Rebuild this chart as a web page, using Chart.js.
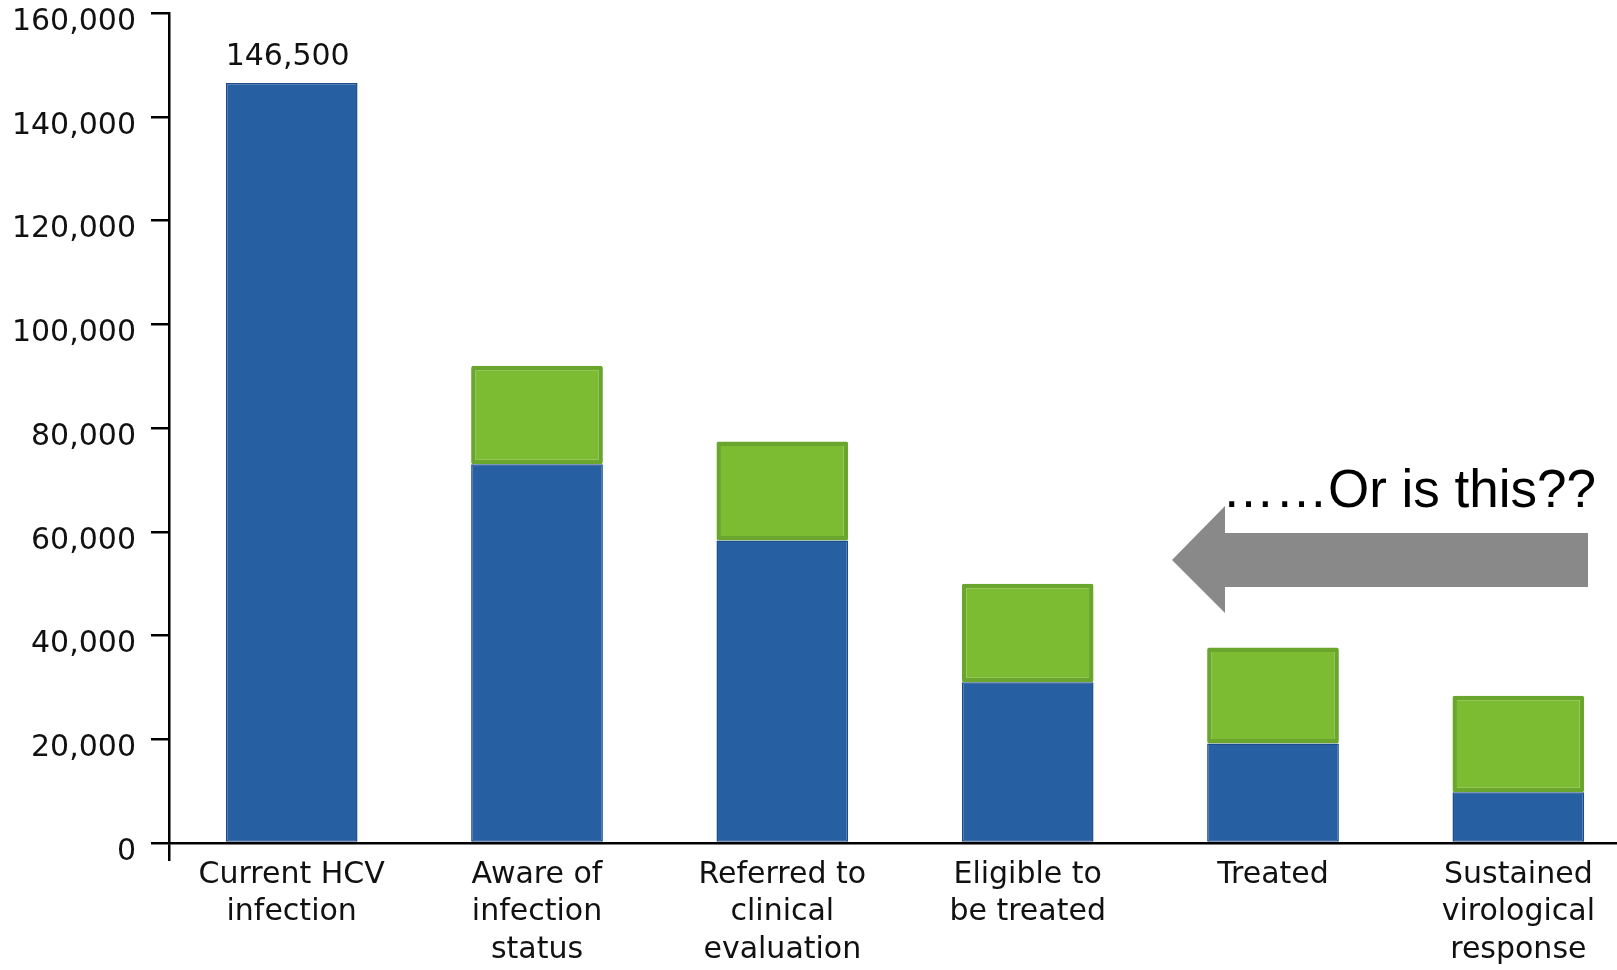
<!DOCTYPE html>
<html>
<head>
<meta charset="utf-8">
<script src="https://cdn.jsdelivr.net/npm/chart.js@4.4.0/dist/chart.umd.min.js"></script>
<style>
  html, body { margin: 0; padding: 0; background: #fff; overflow: hidden; }
  #wrap { width: 1645px; height: 970px; }
</style>
</head>
<body>
<div id="wrap"><canvas id="cascadeChart" width="1645" height="970"></canvas></div>
<script>
// Categorias do eixo X (rótulos em várias linhas)
const categories = [
    ['Current HCV', 'infection'],
    ['Aware of', 'infection', 'status'],
    ['Referred to', 'clinical', 'evaluation'],
    ['Eligible to', 'be treated'],
    ['Treated'],
    ['Sustained', 'virological', 'response']
];

// Valores
const baseValues = [146500, 73000, 58300, 31000, 19200, 9800];   // barras azuis
const extraValues = [null, 19000, 19100, 19000, 18500, 18600];   // acréscimo verde
const yTicks = [0, 20000, 40000, 60000, 80000, 100000, 120000, 140000, 160000];
const topLabel = '146,500';
const noteText = '\u2026\u2026Or is this??';

const tickFont = { family: 'DejaVu Sans', size: 30, lineHeight: 1.25 };

// Rótulo do valor acima da primeira barra
const valueLabelPlugin = {
    id: 'valueLabel',
    afterDatasetsDraw(chart) {
        const bar = chart.getDatasetMeta(0).data[0];
        const ctx = chart.ctx;
        ctx.save();
        ctx.font = '30px "DejaVu Sans"';
        ctx.fillStyle = '#111';
        ctx.textAlign = 'center';
        ctx.textBaseline = 'bottom';
        ctx.fillText(topLabel, bar.x - 4, bar.y - 11);
        ctx.restore();
    }
};

// Seta cinza e texto de anotação
const notePlugin = {
    id: 'note',
    afterDraw(chart) {
        const ctx = chart.ctx;
        ctx.save();
        ctx.fillStyle = '#898989';
        ctx.beginPath();
        ctx.moveTo(1172, 560);
        ctx.lineTo(1225, 506);
        ctx.lineTo(1225, 533);
        ctx.lineTo(1588, 533);
        ctx.lineTo(1588, 587);
        ctx.lineTo(1225, 587);
        ctx.lineTo(1225, 613);
        ctx.closePath();
        ctx.fill();
        ctx.font = '53px "Liberation Sans", Arial, sans-serif';
        ctx.fillStyle = '#000';
        ctx.textAlign = 'left';
        ctx.textBaseline = 'alphabetic';
        ctx.fillText(noteText, 1222, 507);
        ctx.restore();
    }
};

const ctx = document.getElementById('cascadeChart').getContext('2d');
const cascadeChart = new Chart(ctx, {
    type: 'bar',
    data: {
        labels: categories,
        datasets: [
            {
                data: baseValues,
                backgroundColor: '#2660a3',
                borderColor: '#1c4c8c',
                borderWidth: 1.5,
                borderSkipped: false,
                categoryPercentage: 1,
                barPercentage: 0.537
            },
            {
                data: extraValues,
                backgroundColor: '#7bbc33',
                borderColor: '#6aa52d',
                borderWidth: 4.5,
                borderRadius: 2,
                borderSkipped: false,
                categoryPercentage: 1,
                barPercentage: 0.537
            }
        ]
    },
    options: {
        responsive: false,
        devicePixelRatio: 1,
        animation: false,
        layout: { padding: { top: 13, right: 4, bottom: 0, left: 0 } },
        plugins: {
            legend: { display: false },
            tooltip: { enabled: false }
        },
        scales: {
            x: {
                stacked: true,
                afterFit(scale) { scale.height = 127; scale.paddingLeft = 0; scale.paddingRight = 0; },
                border: { color: '#000', width: 2.5 },
                grid: {
                    drawOnChartArea: false,
                    tickLength: 18,
                    lineWidth: 2.5,
                    color: c => c.index === 0 ? '#000' : 'rgba(0,0,0,0)'
                },
                ticks: {
                    color: '#111',
                    font: tickFont,
                    padding: -5,
                    maxRotation: 0,
                    autoSkip: false
                }
            },
            y: {
                stacked: true,
                min: 0,
                max: 160000,
                afterFit(scale) { scale.width = 169; scale.paddingTop = 0; scale.paddingBottom = 0; },
                afterBuildTicks(scale) { scale.ticks = yTicks.map(v => ({ value: v })); },
                border: { color: '#000', width: 2.5 },
                grid: {
                    drawOnChartArea: false,
                    tickLength: 18,
                    lineWidth: 2.5,
                    color: '#000'
                },
                ticks: {
                    color: '#111',
                    font: { family: 'DejaVu Sans', size: 30 },
                    padding: 15,
                    labelOffset: 9,
                    callback: v => v.toLocaleString('en-US')
                }
            }
        }
    },
    plugins: [valueLabelPlugin, notePlugin]
});
</script>
</body>
</html>
